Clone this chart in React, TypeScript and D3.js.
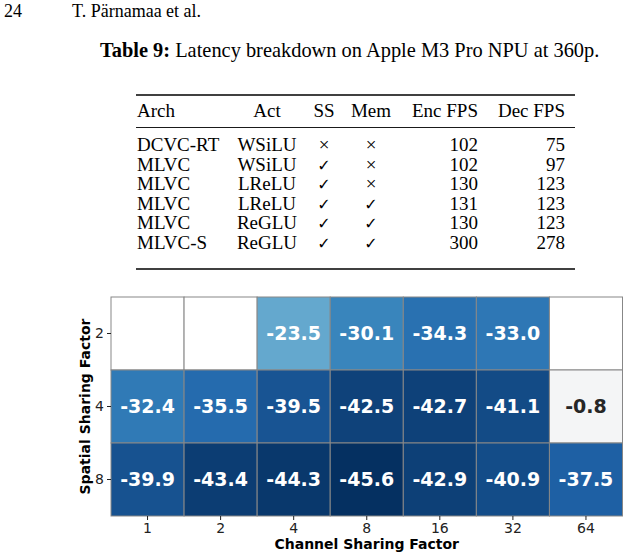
import React, { useEffect, useRef } from 'react';
import * as d3 from 'd3';

// page header + caption
const pageNumber = '24';
const runningHead = 'T. Pärnamaa et al.';
const captionLabel = 'Table 9:';
const captionText = ' Latency breakdown on Apple M3 Pro NPU at 360p.';

// table 9
const tableHeaders = ['Arch', 'Act', 'SS', 'Mem', 'Enc FPS', 'Dec FPS'];
const archs = ['DCVC-RT', 'MLVC', 'MLVC', 'MLVC', 'MLVC', 'MLVC-S'];
const acts = ['WSiLU', 'WSiLU', 'LReLU', 'LReLU', 'ReGLU', 'ReGLU'];
const ssFlags = [false, true, true, true, true, true];
const memFlags = [false, false, false, true, true, true];
const encFps = [102, 102, 130, 131, 130, 300];
const decFps = [75, 97, 123, 123, 123, 278];

// heatmap
const channelFactors = ['1', '2', '4', '8', '16', '32', '64'];
const spatialFactors = ['2', '4', '8'];
const rowSpatial2 = [NaN, NaN, -23.5, -30.1, -34.3, -33.0, NaN];
const rowSpatial4 = [-32.4, -35.5, -39.5, -42.5, -42.7, -41.1, -0.8];
const rowSpatial8 = [-39.9, -43.4, -44.3, -45.6, -42.9, -40.9, -37.5];
const heatValues = [rowSpatial2, rowSpatial4, rowSpatial8];

const serif = '"Liberation Serif", "Times New Roman", serif';
const sans = '"DejaVu Sans", sans-serif';

const luminance = (c: string) => {
  const rgb = d3.rgb(c);
  const lin = (v: number) => {
    const s = v / 255;
    return s <= 0.03928 ? s / 12.92 : Math.pow((s + 0.055) / 1.055, 2.4);
  };
  return 0.2126 * lin(rgb.r) + 0.7152 * lin(rgb.g) + 0.0722 * lin(rgb.b);
};

const App = () => {
  const svgRef = useRef<SVGSVGElement>(null);

  useEffect(() => {
    const svg = d3.select(svgRef.current);
    svg.selectAll('*').remove();

    // ---- running head
    svg.append('text').attr('x', 4).attr('y', 17)
      .style('font-family', serif).style('font-size', '18px').text(pageNumber);
    svg.append('text').attr('x', 72).attr('y', 17)
      .style('font-family', serif).style('font-size', '18px').text(runningHead);

    // ---- caption
    const cap = svg.append('text').attr('x', 100).attr('y', 57)
      .style('font-family', serif).style('font-size', '20.4px').style('white-space', 'pre');
    cap.append('tspan').style('font-weight', 'bold').text(captionLabel);
    cap.append('tspan').text(captionText);

    // ---- table
    const tbl = svg.append('g').style('font-family', serif).style('font-size', '19px');
    const ruleX0 = 136, ruleX1 = 575;
    tbl.append('line').attr('x1', ruleX0).attr('x2', ruleX1).attr('y1', 95).attr('y2', 95)
      .attr('stroke', '#000').attr('stroke-width', 1.6);
    tbl.append('line').attr('x1', ruleX0).attr('x2', ruleX1).attr('y1', 127.5).attr('y2', 127.5)
      .attr('stroke', '#000').attr('stroke-width', 0.9);
    tbl.append('line').attr('x1', ruleX0).attr('x2', ruleX1).attr('y1', 269).attr('y2', 269)
      .attr('stroke', '#000').attr('stroke-width', 1.6);

    const colX = [137, 267, 324, 371, 478, 565];
    const colAnchor = ['start', 'middle', 'middle', 'middle', 'end', 'end'];
    tableHeaders.forEach((h, i) => {
      tbl.append('text').attr('x', colX[i]).attr('y', 117)
        .attr('text-anchor', colAnchor[i]).text(h);
    });

    const rowY = d3.scaleLinear().domain([0, archs.length - 1]).range([151, 249]);
    const mark = (flag: boolean, x: number, y: number) => {
      if (flag) {
        tbl.append('text').attr('x', x).attr('y', y).attr('text-anchor', 'middle')
          .style('font-family', sans).style('font-size', '16px').text('✓');
      } else {
        tbl.append('text').attr('x', x).attr('y', y).attr('text-anchor', 'middle').text('×');
      }
    };
    archs.forEach((a, i) => {
      const y = rowY(i);
      tbl.append('text').attr('x', colX[0]).attr('y', y).text(a);
      tbl.append('text').attr('x', colX[1]).attr('y', y).attr('text-anchor', 'middle').text(acts[i]);
      mark(ssFlags[i], colX[2], y);
      mark(memFlags[i], colX[3], y);
      tbl.append('text').attr('x', colX[4]).attr('y', y).attr('text-anchor', 'end').text(encFps[i]);
      tbl.append('text').attr('x', colX[5]).attr('y', y).attr('text-anchor', 'end').text(decFps[i]);
    });

    // ---- heatmap
    const x = d3.scaleBand().domain(channelFactors).range([111, 622.5]);
    const y = d3.scaleBand().domain(spatialFactors).range([297, 516]);

    // diverging RdBu_r centred at 0
    const all = heatValues.flat().filter(v => !isNaN(v));
    const vr = d3.max(all, v => Math.abs(v)) as number;
    const rdbu = d3.scaleLinear<string>()
      .domain(d3.range(11).map(i => i / 10))
      .range((d3.schemeRdBu[11] as string[]).slice().reverse())
      .interpolate(d3.interpolateRgb);
    const color = (v: number) => rdbu((v + vr) / (2 * vr));

    const cells = heatValues.flatMap((row, ri) =>
      row.map((v, ci) => ({ v, sp: spatialFactors[ri], ch: channelFactors[ci] })));

    const hm = svg.append('g');
    hm.selectAll('rect').data(cells).enter().append('rect')
      .attr('x', d => x(d.ch)!)
      .attr('y', d => y(d.sp)!)
      .attr('width', x.bandwidth())
      .attr('height', y.bandwidth())
      .attr('fill', d => (isNaN(d.v) ? '#ffffff' : color(d.v)))
      .attr('stroke', '#878787')
      .attr('stroke-width', 1);

    hm.selectAll('text.val').data(cells.filter(d => !isNaN(d.v))).enter().append('text')
      .attr('class', 'val')
      .attr('x', d => x(d.ch)! + x.bandwidth() / 2)
      .attr('y', d => y(d.sp)! + y.bandwidth() / 2)
      .attr('dy', '0.34em')
      .attr('text-anchor', 'middle')
      .style('font-family', sans).style('font-size', '19px').style('font-weight', 'bold')
      .attr('fill', d => (luminance(color(d.v)) > 0.408 ? '#262626' : '#ffffff'))
      .text(d => d.v.toFixed(1));

    const xAxis = svg.append('g').attr('transform', 'translate(0,516)')
      .call(d3.axisBottom(x).tickSize(4).tickPadding(3));
    const yAxis = svg.append('g').attr('transform', 'translate(111,0)')
      .call(d3.axisLeft(y).tickSize(4).tickPadding(3));
    [xAxis, yAxis].forEach(ax => {
      ax.select('.domain').remove();
      ax.selectAll('line').attr('stroke', '#222');
      ax.selectAll('text').style('font-family', sans).style('font-size', '14px').attr('fill', '#222');
    });

    svg.append('text').attr('x', (111 + 622.5) / 2).attr('y', 549)
      .attr('text-anchor', 'middle')
      .style('font-family', sans).style('font-size', '14px').style('font-weight', 'bold')
      .text('Channel Sharing Factor');
    svg.append('text')
      .attr('transform', `translate(90,${(297 + 516) / 2}) rotate(-90)`)
      .attr('text-anchor', 'middle')
      .style('font-family', sans).style('font-size', '14px').style('font-weight', 'bold')
      .text('Spatial Sharing Factor');
  }, []);

  return (
    <svg ref={svgRef} width={629} height={559}
      style={{ position: 'absolute', left: 0, top: 0, background: '#fff' }} />
  );
};

export default App;
